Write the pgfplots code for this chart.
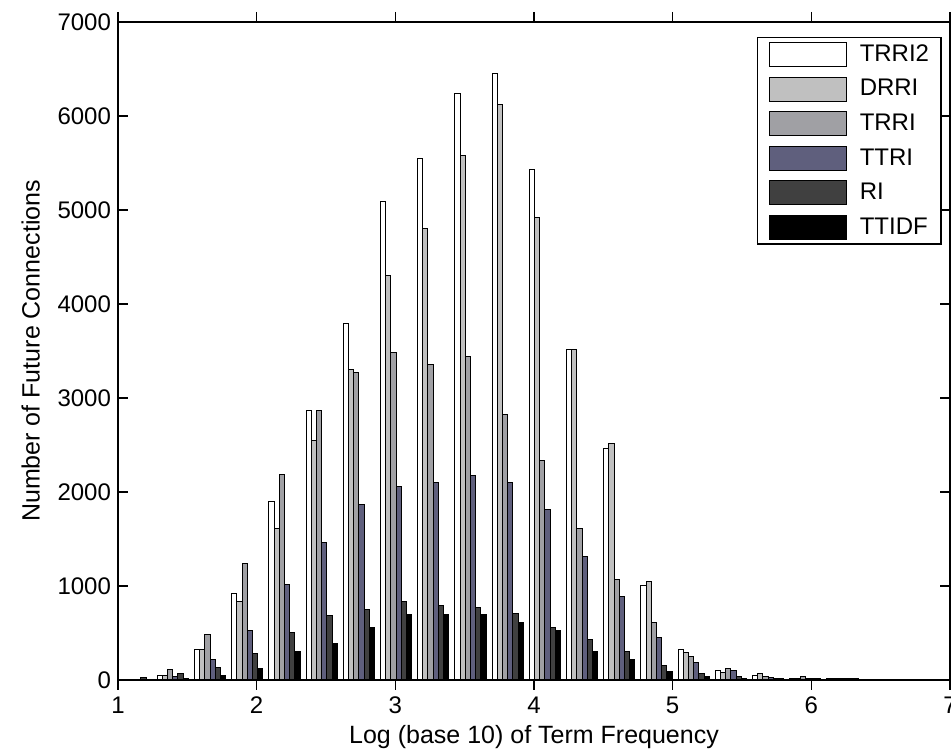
\documentclass[border=0pt]{standalone}
\usepackage{fontspec}
\setmainfont{Liberation Sans}
\usepackage{pgfplots}
\pgfplotsset{compat=1.18}
\usetikzlibrary{calc}

\definecolor{cTRRItwo}{RGB}{255,255,255}
\definecolor{cDRRI}{RGB}{192,192,192}
\definecolor{cTRRI}{RGB}{160,160,164}
\definecolor{cTTRI}{RGB}{95,95,125}
\definecolor{cRI}{RGB}{64,64,64}
\definecolor{cTTIDF}{RGB}{0,0,0}

% x = bin centre, then counts per method
\pgfplotstableread{
x      trri2 drri trri ttri ri  ttidf
1.127  10    10   10   10   30  10
1.395  43    43   110  36   70  12
1.664  319   319  489  220  135 50
1.932  916   830  1241 523  284 119
2.200  1904  1613 2191 1018 507 305
2.469  2872  2553 2872 1461 681 390
2.737  3794  3298 3270 1872 745 560
3.005  5089  4305 3489 2057 830 695
3.273  5550  4798 3351 2106 794 695
3.542  6234  5582 3440 2177 766 695
3.810  6450  6126 2826 2106 709 610
4.078  5433  4918 2330 1819 560 525
4.347  3521  3521 1613 1309 426 301
4.615  2465  2518 1071 883  301 220
4.883  1000  1053 610  457  152 85
5.152  319   291  255  184  66  35
5.420  99    82   121  99   35  11
5.688  50    67   35   28   18  15
5.956  18    18   32   18   11  11
6.225  15    15   15   15   15  15
}\hist

\begin{document}
\begin{tikzpicture}
\begin{axis}[
  name=ax,
  scale only axis, width=416pt, height=329pt,
  xmin=1, xmax=7, ymin=0, ymax=7000,
  xtick={1,...,7}, ytick={0,1000,...,7000},
  tick align=inside, major tick length=5pt,
  axis line style={line width=0.8pt},
  every tick/.style={black, line width=0.6pt},
  /pgf/number format/assume math mode=true,
  /pgf/number format/set thousands separator={},
  tick label style={font=\fontsize{12}{14}\selectfont},
  label style={font=\fontsize{12.5}{15}\selectfont},
  ylabel style={yshift=2pt},
  xlabel style={yshift=1pt},
  xlabel={Log (base 10) of Term Frequency},
  ylabel={Number of Future Connections},
  ybar, bar width=0.0375,
  every axis plot/.append style={draw=black, line width=0.5pt},
  legend image code/.code={\path[draw=none, fill=none] (-2pt,0pt) -- (43pt,0pt); \draw[#1] (0pt,-6pt) rectangle (38.5pt,6pt);},
  legend cell align=left,
  legend style={at={(0.990,0.977)}, anchor=north east,
    font=\fontsize{12}{14}\selectfont, draw=black, line width=0.6pt,
    row sep=3.5pt, inner xsep=4pt, inner ysep=1.5pt},
]
  \addplot[fill=cTRRItwo, bar shift=-0.09375] table[x=x, y=trri2] {\hist};
  \addplot[fill=cDRRI,    bar shift=-0.05625] table[x=x, y=drri]  {\hist};
  \addplot[fill=cTRRI,    bar shift=-0.01875] table[x=x, y=trri]  {\hist};
  \addplot[fill=cTTRI,    bar shift=0.01875]  table[x=x, y=ttri]  {\hist};
  \addplot[fill=cRI,      bar shift=0.05625]  table[x=x, y=ri]    {\hist};
  \addplot[fill=cTTIDF,   bar shift=0.09375]  table[x=x, y=ttidf] {\hist};
  \legend{TRRI2, DRRI, TRRI, TTRI, RI, TTIDF}
\end{axis}
\pgfresetboundingbox
\path[use as bounding box] ($(ax.south west)+(-59pt,-34.5pt)$) rectangle ($(ax.north east)+(0.5pt,11pt)$);
\end{tikzpicture}
\end{document}
